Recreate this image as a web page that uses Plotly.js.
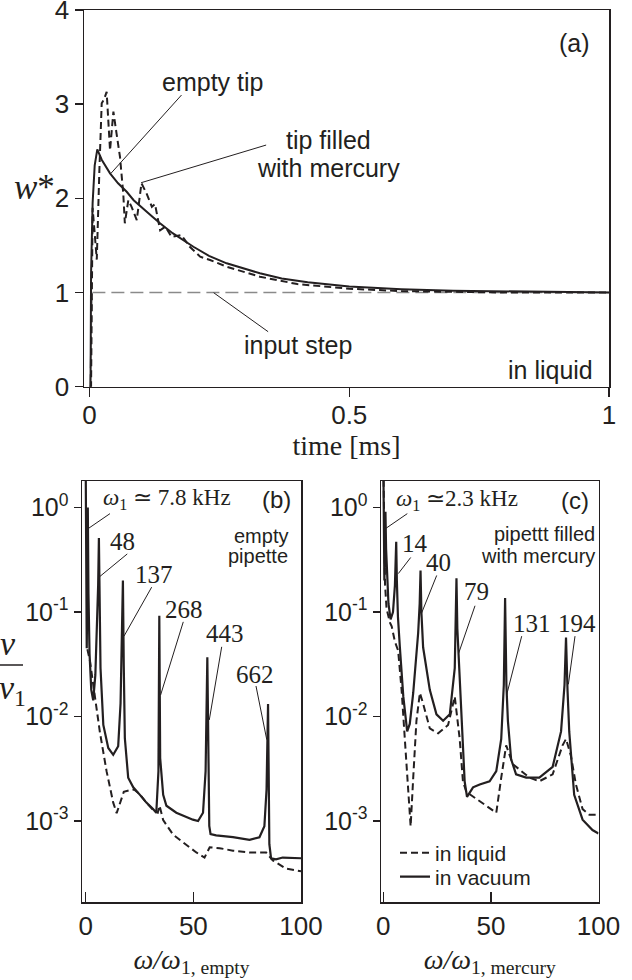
<!DOCTYPE html>
<html>
<head>
<meta charset="utf-8">
<script src="https://cdn.plot.ly/plotly-3.0.1.min.js"></script>
<style>html,body{margin:0;padding:0;background:#fff;}#chart{width:632px;height:980px;}</style>
</head>
<body>
<div id="chart"></div>
<script>
// ---------- Panel (a): step response in liquid ----------
const aEmptyT = [0, 0.002, 0.003, 0.006, 0.010, 0.015, 0.0235, 0.0395, 0.055, 0.0716, 0.085, 0.1036, 0.12, 0.1357, 0.16, 0.2, 0.23, 0.264, 0.3, 0.328, 0.37, 0.42, 0.5, 0.6, 0.7, 0.8, 0.9, 1.0];
const aEmptyW = [0, 0, 1.2, 1.95, 2.35, 2.52, 2.41, 2.265, 2.16, 2.07, 1.98, 1.894, 1.81, 1.735, 1.63, 1.486, 1.39, 1.31, 1.25, 1.204, 1.15, 1.11, 1.065, 1.036, 1.019, 1.01, 1.005, 1.0];
const aMercT = [0, 0.003, 0.006, 0.009, 0.014, 0.019, 0.0235, 0.028, 0.033, 0.0395, 0.046, 0.052, 0.0587, 0.065, 0.068, 0.0747, 0.081, 0.091, 0.1, 0.11, 0.12, 0.126, 0.136, 0.146, 0.158, 0.177, 0.193, 0.213, 0.232, 0.264, 0.3, 0.328, 0.4, 0.5, 0.6, 0.7, 0.8, 0.9, 1.0];
const aMercW = [0, 0, 1.9, 1.7, 1.35, 2.3, 3.01, 3.05, 3.13, 2.51, 2.92, 2.69, 2.44, 2.05, 1.735, 1.98, 1.91, 1.77, 2.16, 2.05, 1.91, 1.94, 1.66, 1.70, 1.59, 1.61, 1.486, 1.38, 1.345, 1.274, 1.21, 1.168, 1.09, 1.04, 1.015, 1.005, 1.0, 1.0, 1.0];
const aStepT = [0, 0.001, 0.005, 1.0];
const aStepW = [0, 0, 1, 1];

// ---------- Panel (b): empty pipette ----------
const bVacX = [0, 0.5, 0.8, 1.0, 1.3, 1.8, 2.6, 3.5, 4.5, 5.3, 5.8, 6.15, 6.5, 6.9, 8.2, 10.5, 12.8, 15.1, 16.2, 16.9, 17.3, 17.7, 18.2, 19.75, 22.1, 25.2, 28.2, 31.3, 32.8, 33.8, 34.2, 34.6, 36.0, 37.5, 42.1, 49.8, 52.2, 54.5, 55.7, 56.5, 57.0, 57.4, 58.0, 60.6, 68.4, 76.1, 80.7, 83.0, 84.0, 84.7, 85.3, 86.1, 88.4, 91.5, 100];
const bVacY = [3.0, 0.045, 0.2, 1.0, 0.15, 0.04, 0.018, 0.0143, 0.025, 0.07, 0.18, 0.51, 0.1, 0.029, 0.0083, 0.005, 0.0043, 0.0052, 0.0133, 0.05, 0.20, 0.03, 0.0062, 0.0026, 0.0021, 0.00178, 0.0015, 0.0013, 0.0012, 0.003, 0.092, 0.004, 0.00178, 0.0014, 0.0012, 0.00103, 0.001, 0.0012, 0.003, 0.037, 0.002, 0.0009, 0.00075, 0.00073, 0.0007, 0.00066, 0.0007, 0.00089, 0.002, 0.0132, 0.0006, 0.00044, 0.00043, 0.000447, 0.00044];
const bLiqX = [0.8, 2.0, 4.3, 6.6, 9.7, 12.8, 14.4, 15.9, 17.7, 20.5, 22.5, 25.2, 28.2, 32.1, 33.5, 34.3, 36.0, 40.6, 46.8, 51.4, 55.2, 57.6, 62.2, 68.4, 76.1, 83.8, 86.9, 93.0, 100];
const bLiqY = [0.044, 0.034, 0.0155, 0.0071, 0.003, 0.0015, 0.00119, 0.00145, 0.0019, 0.00197, 0.002, 0.0018, 0.0015, 0.00123, 0.0012, 0.0014, 0.00102, 0.00074, 0.00059, 0.0005, 0.000447, 0.00056, 0.00055, 0.00052, 0.0005, 0.0005, 0.00042, 0.00035, 0.00033];
const bPeakLabels = ['48', '137', '268', '443', '662'];

// ---------- Panel (c): pipette filled with mercury ----------
const cVacX = [0, 0.5, 0.8, 1.0, 1.3, 1.8, 2.4, 3.4, 4.5, 5.4, 5.8, 6.0, 6.3, 6.8, 7.7, 9.3, 11.1, 12.3, 13.9, 16.2, 16.9, 17.3, 17.7, 18.5, 21.6, 24.7, 27.8, 30.9, 33.2, 33.7, 34.0, 34.4, 35.2, 36.3, 37.8, 38.9, 41.7, 44.8, 49.4, 52.5, 54.8, 56.0, 56.6, 57.2, 57.9, 59.4, 61.7, 66.4, 72.5, 78.7, 82.6, 84.2, 84.9, 85.6, 86.4, 88.7, 92.6, 97.2, 100];
const cVacY = [3.0, 0.2, 0.45, 0.91, 0.4, 0.18, 0.12, 0.085, 0.1, 0.18, 0.3, 0.47, 0.2, 0.09, 0.046, 0.0155, 0.0072, 0.0085, 0.0168, 0.063, 0.12, 0.25, 0.1, 0.046, 0.018, 0.0105, 0.0091, 0.0105, 0.029, 0.07, 0.21, 0.07, 0.029, 0.0091, 0.0024, 0.0017, 0.0021, 0.00224, 0.0024, 0.003, 0.0061, 0.02, 0.136, 0.02, 0.0091, 0.0039, 0.0028, 0.0026, 0.0026, 0.0033, 0.0072, 0.02, 0.057, 0.018, 0.0072, 0.00178, 0.00103, 0.00082, 0.00076];
const cLiqX = [0, 0.8, 1.5, 3.1, 3.9, 5.4, 6.9, 8.5, 10.0, 11.6, 12.7, 13.9, 15.4, 17.0, 18.5, 21.6, 25.5, 30.1, 33.2, 35.5, 37.0, 38.6, 43.2, 47.8, 52.5, 54.8, 57.1, 60.2, 63.3, 67.9, 72.5, 78.7, 83.3, 84.9, 87.2, 89.5, 92.6, 95.7, 100];
const cLiqY = [3.0, 0.186, 0.108, 0.079, 0.073, 0.052, 0.0427, 0.018, 0.0061, 0.0019, 0.00089, 0.0026, 0.0091, 0.0168, 0.0133, 0.0077, 0.0069, 0.0083, 0.0155, 0.0061, 0.0024, 0.0019, 0.00164, 0.0014, 0.0012, 0.0026, 0.0053, 0.0035, 0.0031, 0.0026, 0.0024, 0.0028, 0.0053, 0.0061, 0.0042, 0.00224, 0.0013, 0.00115, 0.00115];
const cPeakLabels = ['14', '40', '79', '131', '194'];

const logTickVals = [1, 0.1, 0.01, 0.001];
const logTickText = ['10<sup>0</sup>', '10<sup>-1</sup>', '10<sup>-2</sup>', '10<sup>-3</sup>'];

// ---------- styling ----------
const INK = '#231f20';
const SANS = 'Liberation Sans, Arial, Helvetica, sans-serif';
const SERIF = 'Liberation Serif, Times New Roman, serif';
const solid = {color: INK, width: 2};
const solidSpec = {color: INK, width: 2.2};
const dashed = {color: INK, width: 2, dash: '7px,4px'};

const traces = [
  {x: aStepT, y: aStepW, xaxis: 'x', yaxis: 'y', mode: 'lines', line: {color: '#8a8a8a', width: 1.5, dash: '13px,6px'}, showlegend: false, name: 'input step'},
  {x: aMercT, y: aMercW, xaxis: 'x', yaxis: 'y', mode: 'lines', line: dashed, showlegend: false, name: 'tip filled with mercury'},
  {x: aEmptyT, y: aEmptyW, xaxis: 'x', yaxis: 'y', mode: 'lines', line: solid, showlegend: false, name: 'empty tip'},
  {x: bLiqX, y: bLiqY, xaxis: 'x2', yaxis: 'y2', mode: 'lines', line: dashed, showlegend: false, name: 'in liquid'},
  {x: bVacX, y: bVacY, xaxis: 'x2', yaxis: 'y2', mode: 'lines', line: solidSpec, showlegend: false, name: 'in vacuum'},
  {x: cLiqX, y: cLiqY, xaxis: 'x3', yaxis: 'y3', mode: 'lines', line: dashed, showlegend: true, legend: 'legend', name: 'in liquid'},
  {x: cVacX, y: cVacY, xaxis: 'x3', yaxis: 'y3', mode: 'lines', line: solidSpec, showlegend: true, legend: 'legend2', name: 'in vacuum'}
];

const frame = {showline: true, mirror: true, linecolor: INK, linewidth: 1.5, showgrid: false, zeroline: false, tickcolor: INK, tickwidth: 1.5};

function txt(xref, yref, x, y, text, font, extra) {
  return Object.assign({xref: xref, yref: yref, x: x, y: y, text: text, showarrow: false, font: font, xanchor: 'center', yanchor: 'middle'}, extra || {});
}
// leader line from a label (tail) to a point on a curve (tip); log panels take decade exponents
function leadLin(xref, yref, x0, y0, x1, y1) {
  return {type: 'line', xref: xref, yref: yref, x0: x0, y0: y0, x1: x1, y1: y1, line: {color: INK, width: 1}};
}
function leadLog(xref, yref, x0, e0, x1, e1) {
  return leadLin(xref, yref, x0, Math.pow(10, e0), x1, Math.pow(10, e1));
}
const fA = {family: SANS, size: 25, color: INK};
const fPanel = {family: SANS, size: 24, color: INK};
const fSmall = {family: SANS, size: 20, color: INK};
const fNum = {family: SERIF, size: 25, color: INK};

const annotations = [
  // panel (a)
  txt('x', 'y', 0.934, 3.645, '(a)', fA),
  txt('x', 'y', 0.237, 3.238, 'empty tip', fA),
  txt('x', 'y', 0.46, 2.62, 'tip filled', fA),
  txt('x', 'y', 0.46, 2.318, 'with mercury', fA),
  txt('x', 'y', 0.402, 0.443, 'input step', fA),
  txt('x', 'y', 0.887, 0.177, 'in liquid', fA),
  txt('paper', 'paper', 34 / 632, 1 - 188 / 980, '<i>w</i>*', {family: SERIF, size: 35, color: INK}),
  // panel (b)
  txt('x2', 'y2', 37.6, 0.081, '<i>ω</i><sub>1</sub> ≃ 7.8 kHz', {family: SERIF, size: 23, color: INK}),
  txt('x2', 'y2', 88.7, 0.081, '(b)', fPanel),
  txt('x2', 'y2', 95.0, -0.275, 'empty', fSmall, {xanchor: 'right'}),
  txt('x2', 'y2', 95.0, -0.46, 'pipette', fSmall, {xanchor: 'right'}),
  txt('x2', 'y2', 17.2, -0.324, bPeakLabels[0], fNum),
  txt('x2', 'y2', 31.7, -0.639, bPeakLabels[1], fNum),
  txt('x2', 'y2', 45.7, -0.974, bPeakLabels[2], fNum),
  txt('x2', 'y2', 64.8, -1.207, bPeakLabels[3], fNum),
  txt('x2', 'y2', 78.6, -1.596, bPeakLabels[4], fNum),
  txt('paper', 'paper', 8 / 632, 1 - 643 / 980, '<i>v</i>', {family: SERIF, size: 34, color: INK}),
  txt('paper', 'paper', 12 / 632, 1 - 690 / 980, '<i>v</i><sub>1</sub>', {family: SERIF, size: 34, color: INK}),
  // panel (c)
  txt('x3', 'y3', 34.4, 0.068, '<i>ω</i><sub>1</sub> ≃2.3 kHz', {family: SERIF, size: 23, color: INK}),
  txt('x3', 'y3', 89.1, 0.068, '(c)', fPanel),
  txt('x3', 'y3', 99.2, -0.252, 'pipettt filled', fSmall, {xanchor: 'right'}),
  txt('x3', 'y3', 99.2, -0.46, 'with mercury', fSmall, {xanchor: 'right'}),
  txt('x3', 'y3', 14.7, -0.342, cPeakLabels[0], fNum),
  txt('x3', 'y3', 25.6, -0.523, cPeakLabels[1], fNum),
  txt('x3', 'y3', 43.4, -0.803, cPeakLabels[2], fNum),
  txt('x3', 'y3', 69.0, -1.111, cPeakLabels[3], fNum),
  txt('x3', 'y3', 89.9, -1.111, cPeakLabels[4], fNum)
];

const shapes = [
  // panel (a) leaders
  leadLin('x', 'y', 0.1771, 3.097, 0.0412, 2.265),
  leadLin('x', 'y', 0.340, 2.566, 0.0993, 2.166),
  leadLin('x', 'y', 0.3438, 0.584, 0.239, 0.998),
  // panel (b) leaders
  leadLog('x2', 'y2', 11.29, -0.0584, 0.93, -0.205),
  leadLog('x2', 'y2', 19.32, -0.444, 6.64, -0.659),
  leadLog('x2', 'y2', 30.65, -0.762, 17.8, -1.231),
  leadLog('x2', 'y2', 45.33, -1.094, 34.8, -1.794),
  leadLog('x2', 'y2', 63.17, -1.333, 57.4, -2.033),
  leadLog('x2', 'y2', 79.1, -1.708, 84.1, -2.221),
  // panel (c) leaders
  leadLog('x3', 'y3', 11.15, -0.0584, 0.79, -0.205),
  leadLog('x3', 'y3', 12.73, -0.478, 6.97, -0.632),
  leadLog('x3', 'y3', 24.81, -0.650, 17.8, -1.009),
  leadLog('x3', 'y3', 42.61, -0.940, 34.9, -1.401),
  leadLog('x3', 'y3', 64.31, -1.231, 57.3, -1.794),
  leadLog('x3', 'y3', 89.08, -1.231, 86.0, -1.692),
  // fraction bar of the v / v1 label
  {type: 'line', xref: 'paper', yref: 'paper', x0: 0, x1: 23 / 632, y0: 1 - 665 / 980, y1: 1 - 665 / 980, line: {color: INK, width: 1.5}}
];

const legendBase = {xanchor: 'left', yanchor: 'middle', bgcolor: 'rgba(0,0,0,0)', borderwidth: 0,
                    font: {family: SANS, size: 21, color: INK}, itemwidth: 30, tracegroupgap: 0};

const layout = {
  width: 632, height: 980,
  margin: {l: 0, r: 0, t: 0, b: 0},
  paper_bgcolor: '#ffffff', plot_bgcolor: '#ffffff',
  font: {family: SANS, color: INK},
  showlegend: true,
  legend: Object.assign({}, legendBase, {x: 395 / 632, y: 1 - 853 / 980}),
  legend2: Object.assign({}, legendBase, {x: 395 / 632, y: 1 - 877 / 980}),
  xaxis: Object.assign({}, frame, {domain: [84 / 632, 609 / 632], anchor: 'y', range: [-0.0106, 1.0],
    tickvals: [0, 0.5, 1], ticktext: ['0', '0.5', '1'], ticks: 'outside', ticklen: 9, ticklabelstandoff: -4,
    tickfont: {family: SANS, size: 26, color: INK},
    title: {text: 'time [ms]', font: {family: SERIF, size: 28, color: INK}, standoff: 2}}),
  yaxis: Object.assign({}, frame, {domain: [1 - 386.7 / 980, 1 - 10 / 980], anchor: 'x', range: [0, 4],
    tickvals: [0, 1, 2, 3, 4], ticks: 'outside', ticklen: 8, ticklabeloverflow: 'allow',
    tickfont: {family: SANS, size: 26, color: INK}}),
  xaxis2: Object.assign({}, frame, {domain: [82 / 632, 301 / 632], anchor: 'y2', range: [-1.7, 100],
    tickvals: [0, 50, 100], ticks: 'inside', ticklen: 10, ticklabelstandoff: 0, tickfont: {family: SANS, size: 26, color: INK},
    title: {text: '<i>ω/ω</i><sub>1, empty</sub>', font: {family: SERIF, size: 28, color: INK}, standoff: 9}}),
  yaxis2: Object.assign({}, frame, {domain: [1 - 902 / 980, 1 - 481 / 980], anchor: 'x2', type: 'log', range: [-3.775, 0.254],
    tickmode: 'array', tickvals: logTickVals, ticktext: logTickText, ticks: 'outside', ticklen: 7, tickfont: {family: SANS, size: 25, color: INK}}),
  xaxis3: Object.assign({}, frame, {domain: [381 / 632, 598.5 / 632], anchor: 'y3', range: [-1.07, 100],
    tickvals: [0, 50, 100], ticks: 'inside', ticklen: 10, ticklabelstandoff: 0, tickfont: {family: SANS, size: 26, color: INK},
    title: {text: '<i>ω/ω</i><sub>1, mercury</sub>', font: {family: SERIF, size: 28, color: INK}, standoff: 9}}),
  yaxis3: Object.assign({}, frame, {domain: [1 - 902 / 980, 1 - 481 / 980], anchor: 'x3', type: 'log', range: [-3.775, 0.254],
    tickmode: 'array', tickvals: logTickVals, ticktext: logTickText, ticks: 'outside', ticklen: 7, tickfont: {family: SANS, size: 25, color: INK}}),
  annotations: annotations,
  shapes: shapes
};

Plotly.newPlot('chart', traces, layout, {displayModeBar: false, staticPlot: true});
</script>
</body>
</html>
